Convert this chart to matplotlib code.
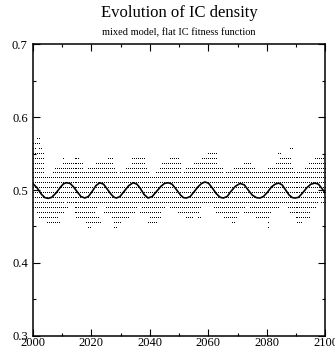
import numpy as np
import matplotlib
matplotlib.use("Agg")
import matplotlib.pyplot as plt
from matplotlib.ticker import MultipleLocator

plt.rcParams["font.family"] = ["Liberation Serif", "DejaVu Serif"]

# Population density levels (quantised) and time sampling of individual runs
LEVEL_BASE = 0.5023
LEVEL_STEP = 0.0068
DOT_STEP = 0.68

# Occupied density levels: level index, start year, end year
seg_level = [10, 9, 9, 8, 8, 8, 7, 7, 7,
             6, 6, 6, 6, 6, 6, 6, 6, 6,
             5, 5, 5, 5, 5, 5, 5, 5, 5,
             4, 4, 4, 4, 4, 4, 4, 4, 4,
             3, 3, 3, 3, 3, 3, 3, 3, 3,
             2, 1, 0, -1, -2,
             -3, -3, -3, -3,
             -4, -4, -4, -4, -4, -4, -4, -4, -4,
             -5, -5, -5, -5, -5, -5, -5, -5,
             -6, -6, -6, -6, -6, -6, -6, -6, -6,
             -7, -7, -7, -7, -7, -7, -7,
             -8, -8, -8]
seg_start = [2001.5, 2000.0, 2001.3, 2000.0, 2002.0, 2088.0, 2000.0, 2060.0, 2083.9,
             2000.0, 2009.9, 2014.5, 2025.8, 2033.8, 2046.9, 2057.8, 2084.0, 2096.5,
             2000.0, 2010.5, 2021.9, 2033.8, 2044.1, 2054.9, 2072.0, 2082.8, 2094.8,
             2000.0, 2007.6, 2019.0, 2032.1, 2043.5, 2052.6, 2068.6, 2080.0, 2093.1,
             2000.0, 2006.5, 2017.9, 2029.8, 2042.4, 2051.5, 2065.7, 2076.6, 2090.3,
             2000.0, 2000.0, 2000.0, 2000.0, 2000.0,
             2000.0, 2011.6, 2066.9, 2098.5,
             2000.2, 2014.5, 2025.3, 2037.3, 2046.9, 2061.7, 2074.3, 2086.8, 2095.9,
             2001.4, 2014.5, 2024.7, 2036.7, 2049.8, 2062.9, 2072.0, 2088.0,
             2001.9, 2015.0, 2027.0, 2040.1, 2052.1, 2056.6, 2065.2, 2076.0, 2089.7,
             2004.8, 2018.5, 2027.6, 2039.5, 2068.0, 2080.0, 2090.3,
             2019.0, 2028.1, 2080.0]
seg_end = [2001.8, 2000.4, 2002.0, 2001.0, 2002.8, 2088.3, 2003.1, 2062.3, 2084.3,
           2003.1, 2010.5, 2015.6, 2027.0, 2038.4, 2049.8, 2062.3, 2087.4, 2099.4,
           2003.6, 2016.7, 2027.0, 2038.4, 2050.4, 2062.3, 2074.3, 2087.4, 2100.0,
           2003.6, 2017.3, 2027.6, 2039.0, 2050.4, 2064.6, 2075.4, 2088.5, 2100.0,
           2003.6, 2017.3, 2028.7, 2039.5, 2050.4, 2064.6, 2076.0, 2089.1, 2100.0,
           2100.0, 2100.0, 2100.0, 2100.0, 2100.0,
           2010.5, 2066.3, 2097.1, 2100.0,
           2011.6, 2021.9, 2035.6, 2044.7, 2057.2, 2072.0, 2083.4, 2095.4, 2096.5,
           2010.5, 2021.3, 2034.4, 2043.5, 2056.6, 2070.3, 2081.1, 2094.8,
           2008.2, 2022.4, 2032.7, 2043.5, 2054.4, 2057.2, 2069.2, 2080.5, 2094.8,
           2008.8, 2023.0, 2029.8, 2042.4, 2068.6, 2080.5, 2092.0,
           2019.6, 2028.7, 2080.5]

# Mean IC density over time
mean_year = [2000.0, 2001.5, 2003.0, 2004.2, 2005.3, 2006.5, 2008.0, 2009.5, 2010.5, 2011.5,
             2012.8, 2014.0, 2015.3, 2016.5, 2017.8, 2019.0, 2020.3, 2021.6, 2022.9,
             2024.2, 2025.5, 2026.8, 2027.8, 2028.6, 2029.8, 2031.2, 2032.8, 2034.3,
             2035.6, 2036.8, 2038.0, 2039.4, 2040.8, 2042.3, 2043.8, 2045.0, 2046.3,
             2047.6, 2049.0, 2050.5, 2051.5, 2052.5, 2053.8, 2055.2, 2056.6, 2057.7, 2058.8,
             2060.0, 2061.3, 2062.7, 2064.0, 2065.1, 2066.4, 2067.7, 2069.2, 2070.8,
             2072.3, 2073.6, 2075.0, 2076.4, 2077.6, 2078.8, 2080.2, 2081.5, 2082.8, 2084.0,
             2085.2, 2086.4, 2087.6, 2088.7, 2089.7, 2090.8, 2092.2, 2093.6, 2095.0, 2096.4,
             2097.6, 2098.8, 2100.0]
mean_density = [0.509, 0.503, 0.494, 0.4895, 0.4885, 0.490, 0.496, 0.504, 0.5085, 0.510,
                0.509, 0.504, 0.497, 0.491, 0.489, 0.491, 0.498, 0.506, 0.510,
                0.508, 0.501, 0.494, 0.490, 0.489, 0.491, 0.498, 0.506, 0.510,
                0.508, 0.502, 0.494, 0.489, 0.491, 0.498, 0.505, 0.509, 0.510,
                0.508, 0.501, 0.493, 0.4895, 0.489, 0.491, 0.498, 0.505, 0.509, 0.511,
                0.5095, 0.503, 0.495, 0.490, 0.489, 0.491, 0.498, 0.505, 0.509,
                0.507, 0.500, 0.493, 0.4895, 0.489, 0.491, 0.497, 0.504, 0.508, 0.5095,
                0.507, 0.500, 0.493, 0.4895, 0.489, 0.490, 0.496, 0.503, 0.508, 0.5095,
                0.508, 0.502, 0.4955]

fig = plt.figure(figsize=(3.35, 3.53), dpi=100)
ax = fig.add_axes([0.0976, 0.0493, 0.874, 0.8249])

# Individual run values as single-pixel dots on the quantised levels
grid = np.arange(2000.0, 2100.0 + 1e-9, DOT_STEP)
xs, ys = [], []
for lvl, a, b in zip(seg_level, seg_start, seg_end):
    t = grid[(grid >= a - DOT_STEP / 2) & (grid <= b + DOT_STEP / 2)]
    xs.append(t)
    ys.append(np.full(t.shape, LEVEL_BASE + lvl * LEVEL_STEP))
xs = np.concatenate(xs)
ys = np.concatenate(ys)
ax.plot(xs, ys, ",", color="black", antialiased=False)

ax.plot(mean_year, mean_density, color="black", lw=1.2)

ax.set_xlim(2000, 2100)
ax.set_ylim(0.3, 0.7)
ax.xaxis.set_major_locator(MultipleLocator(20))
ax.xaxis.set_minor_locator(MultipleLocator(10))
ax.yaxis.set_major_locator(MultipleLocator(0.1))
ax.yaxis.set_minor_locator(MultipleLocator(0.05))
ax.tick_params(which="both", direction="in", top=True, right=True,
               width=0.8, labelsize=9)
ax.tick_params(which="major", length=5)
ax.tick_params(which="minor", length=2.5)
ax.tick_params(axis="y", pad=3.5)
ax.tick_params(axis="x", pad=1)
for s in ax.spines.values():
    s.set_linewidth(1.1)

fig.text(0.535, 0.9527, "Evolution of IC density", ha="center", va="baseline", fontsize=12)
fig.text(0.535, 0.899, "mixed model, flat IC fitness function", ha="center",
         va="baseline", fontsize=7.5)

fig.savefig("out.png", dpi=100)
